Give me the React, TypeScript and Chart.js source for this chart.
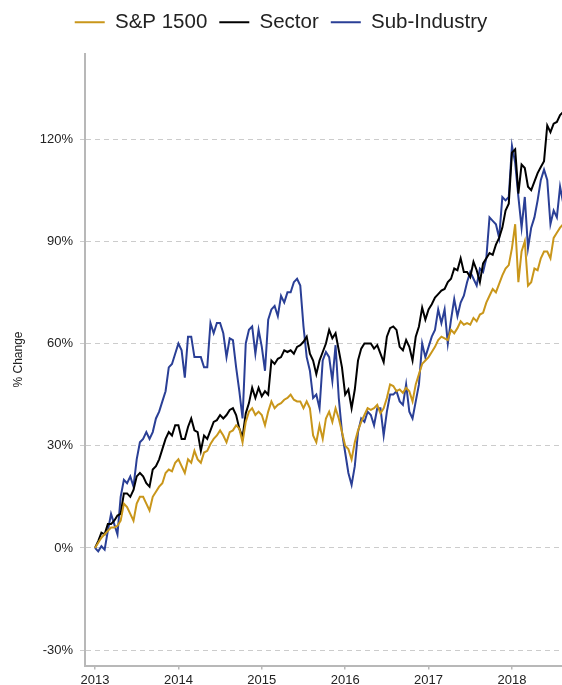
import React, { useEffect, useRef } from "react";
import { Chart, registerables } from "chart.js";

Chart.register(...registerables);

const seriesNames = ["S&P 1500", "Sector", "Sub-Industry"];
const seriesColors = ["#C9961A", "#000000", "#2A3F96"];
const startYear = 2013;
const pointsPerYear = 26;
const yearTicks = [2013, 2014, 2015, 2016, 2017, 2018];
const pctTicks = [-30, 0, 30, 60, 90, 120];

const sp1500 = [
  0, 1.5, 3, 4, 5, 6, 6, 6.5, 8, 13, 12, 10, 8, 13, 15, 15, 13, 11, 15, 16.5,
  18, 19, 22, 23, 22.5, 25, 26, 24, 22, 26, 25, 28.5, 26, 25, 28, 28.5, 30.5, 32, 33, 34.5,
  33, 31, 34, 34.5, 36, 35, 31, 37, 40, 41, 39, 40, 39, 36, 40, 43, 41, 42, 42.5, 43.5,
  44, 45, 43.5, 43, 43, 41, 43, 41, 33, 31, 36, 32, 38, 40, 37, 41, 38, 34, 30, 29,
  26, 31, 34.5, 37, 39, 41, 40.5, 41, 42, 39.5, 41, 44, 48, 47.5, 46, 46.5, 45.5, 47, 46, 43,
  48, 51, 54, 55, 56, 57.5, 59, 61, 62, 61.5, 61, 64, 63, 64.5, 66.5, 65.5, 66, 65.5, 67.5, 66.5,
  68.5, 69, 72, 74, 76, 75, 77.5, 80, 82, 83, 88, 95, 78, 87, 90, 77, 78, 82, 81.5, 85,
  87, 87, 85, 91, 92.5, 94, 95,
];

const sector = [
  0, 2, 4.5, 4, 7, 7, 8, 9.5, 10, 16, 16, 15, 17, 21, 22, 21, 19, 18, 23, 24,
  26, 29, 32, 34, 33, 36, 36, 32, 32, 35.5, 38, 34.5, 34, 28.5, 33, 32, 34.5, 37, 37.5, 39,
  38, 39, 40.5, 41, 39, 35, 32.5, 39.5, 42.5, 47, 44, 47, 44.5, 46, 45, 55, 54, 55.5, 56, 58,
  57.5, 58, 57, 59, 59.5, 60.5, 62, 57, 55, 51, 55, 57.5, 60, 64, 61.5, 63, 58, 53, 45, 46.5,
  41, 46.5, 55, 58.5, 60, 60, 60, 58.5, 59.5, 57, 54.5, 62, 64.5, 65, 64, 59, 58, 61, 59, 55,
  62, 65, 70.5, 67, 70, 71.5, 73.5, 74.5, 75.5, 76, 78, 79, 82, 81.5, 85, 81, 81, 79.5, 84, 81.5,
  78, 83.5, 85, 86.5, 86, 89, 91, 94, 99, 101, 116, 117, 104, 112.5, 111.5, 106, 105, 107.5, 110, 111.8,
  113.5, 124, 122, 124.5, 125, 127, 128,
];

const subIndustry = [
  0, -1, 0.5, -0.5, 5, 10, 7, 4, 15, 20, 19, 21, 18, 26, 31, 32, 34, 32, 34, 38,
  40, 43, 46, 53, 54, 57, 60, 58, 50, 62, 62, 56, 56, 56, 53, 53, 66, 63, 66, 66,
  63, 56, 61.5, 61, 53, 46, 38, 60, 64, 65, 57, 64, 59, 52, 67, 70, 71, 68, 74, 72,
  75, 75, 78, 79, 77, 65, 56, 52, 44, 45, 41, 55, 57.5, 56, 49, 59.5, 44, 34, 28, 22,
  18.5, 24, 34, 38, 37, 40, 39, 36, 41, 41, 33, 40, 45, 45, 46, 43, 42, 48, 40, 38,
  43, 48, 60, 56, 59, 62, 64, 70, 66, 70, 60, 67, 73, 68, 72, 74, 78, 81, 79, 77,
  82, 81, 85, 97, 96, 95, 91, 103, 102, 103, 118, 113, 103, 94, 103, 88, 94, 97, 102, 108,
  111, 108, 95, 99, 97, 106, 101,
];

const FONT = "'Liberation Sans', Arial, sans-serif";

export default function App() {
  const ref = useRef<HTMLCanvasElement>(null);

  useEffect(() => {
    if (!ref.current) return;
    document.documentElement.style.overflow = "hidden";
    document.body.style.margin = "0";
    document.body.style.overflow = "hidden";

    const toPoints = (vals: number[]) =>
      vals.map((v, i) => ({ x: startYear + i / pointsPerYear, y: v }));
    const allSeries = [sp1500, sector, subIndustry];

    const legendMargin = {
      id: "legendMargin",
      beforeUpdate(chart: any) {
        const lg = chart.legend;
        if (lg && !lg._patched) {
          const orig = lg.fit;
          lg.fit = function () {
            orig.call(this);
            this.height += 11;
          };
          lg._patched = true;
        }
      },
    };

    const chart = new Chart(ref.current, {
      type: "line",
      data: {
        datasets: allSeries.map((vals, k) => ({
          label: seriesNames[k],
          data: toPoints(vals),
          borderColor: seriesColors[k],
          backgroundColor: seriesColors[k],
          borderWidth: 2,
          pointRadius: 0,
          pointBorderWidth: 2,
          tension: 0,
          fill: false,
        })),
      },
      plugins: [legendMargin],
      options: {
        responsive: false,
        animation: false,
        layout: { padding: 0, autoPadding: false },
        plugins: {
          legend: {
            position: "top",
            labels: {
              usePointStyle: true,
              pointStyle: "line",
              pointStyleWidth: 30,
              padding: 12,
              color: "#222",
              font: { family: FONT, size: 20.5 },
            },
          },
          tooltip: { enabled: false },
        },
        scales: {
          x: {
            type: "linear",
            min: 2012.88,
            max: 2018.6,
            afterBuildTicks: (s: any) => {
              s.ticks = yearTicks.map((v) => ({ value: v }));
            },
            afterFit: (s: any) => {
              s.height = 19.5;
              s.paddingLeft = 0;
              s.paddingRight = 0;
            },
            grid: { drawOnChartArea: false, tickLength: 4, color: "#b8b8b8", lineWidth: 1.5 },
            border: { color: "#b8b8b8", width: 2 },
            ticks: {
              callback: (v: any) => String(v),
              color: "#222",
              font: { family: FONT, size: 13 },
              padding: 3,
              maxRotation: 0,
              autoSkip: false,
            },
          },
          y: {
            type: "linear",
            min: -34.5,
            max: 145.1,
            afterBuildTicks: (s: any) => {
              s.ticks = pctTicks.map((v) => ({ value: v }));
            },
            afterFit: (s: any) => {
              s.width = 85;
              s.paddingTop = 0;
              s.paddingBottom = 0;
            },
            grid: { color: "#cccccc", tickLength: 5, lineWidth: 1 },
            border: { color: "#b8b8b8", width: 2, dash: [5, 4] },
            ticks: {
              callback: (v: any) => v + "%",
              color: "#222",
              font: { family: FONT, size: 13 },
              padding: 7,
            },
            title: {
              display: true,
              text: "% Change",
              color: "#222",
              font: { family: FONT, size: 12 },
              padding: { top: 11, bottom: 0 },
            },
          },
        },
      },
    } as any);

    return () => chart.destroy();
  }, []);

  return (
    <div style={{ width: 562, height: 685, position: "relative", overflow: "hidden" }}>
      <canvas ref={ref} width={562} height={685} style={{ display: "block" }} />
    </div>
  );
}
